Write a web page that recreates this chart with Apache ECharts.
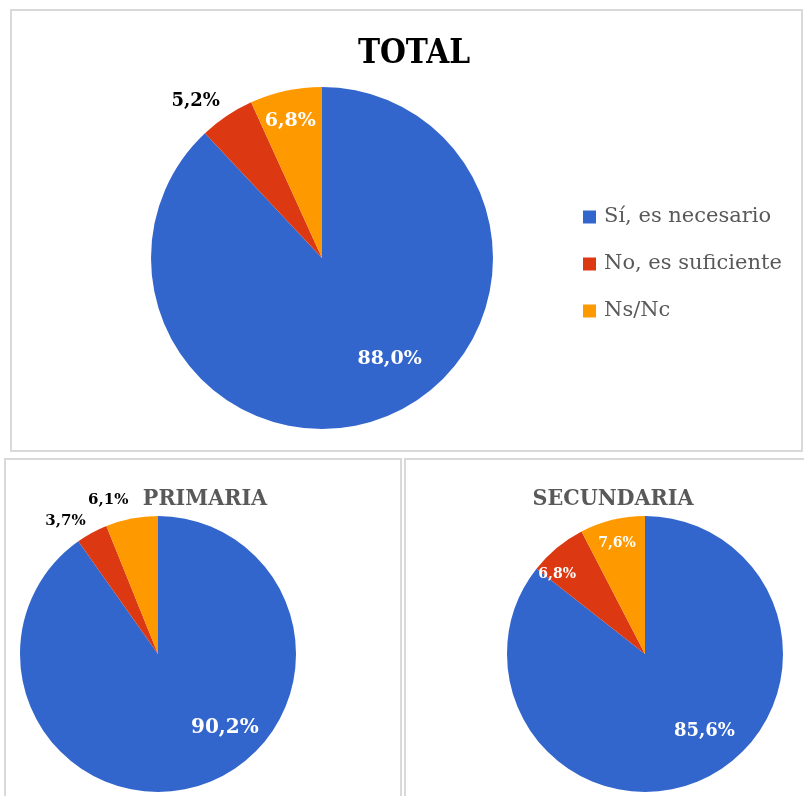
<!DOCTYPE html>
<html>
<head>
<meta charset="utf-8">
<script src="https://cdn.jsdelivr.net/npm/echarts@6/dist/echarts.min.js"></script>
<style>
  html, body { margin: 0; padding: 0; background: #fff; }
  #chart { width: 804px; height: 796px; }
</style>
</head>
<body>
<div id="chart"></div>
<script>
// categorias y valores (%)
var categories = ["Sí, es necesario", "No, es suficiente", "Ns/Nc"];
var totalValues = [88.0, 5.2, 6.8];
var primariaValues = [90.2, 3.7, 6.1];
var secundariaValues = [85.6, 6.8, 7.6];
var titles = ["TOTAL", "PRIMARIA", "SECUNDARIA"];

var colors = ["#3366CC", "#DC3912", "#FF9900"];

// ajustes de etiquetas (estilo, no datos)
var totalLabels = [
  { color: "#fff", size: 19, offset: [35, 19] },
  { color: "#000", size: 18, offset: [-77, -83] },
  { color: "#fff", size: 19, offset: [-13, -50] }
];
var primariaLabels = [
  { color: "#fff", size: 20, offset: [45, 5] },
  { color: "#000", size: 15, offset: [-58, -70] },
  { color: "#000", size: 15, offset: [-36, -83] }
];
var secundariaLabels = [
  { color: "#fff", size: 18, offset: [28, 13] },
  { color: "#fff", size: 14, offset: [-42, -24] },
  { color: "#fff", size: 14, offset: [-11, -41] }
];

var titleFont = "'DejaVu Serif Condensed', 'Liberation Serif', serif";

function fmt(v) {
  return v.toFixed(1).replace(".", ",") + "%";
}

function pieSeries(values, labels, center, radius) {
  return {
    type: "pie",
    center: center,
    radius: radius,
    startAngle: 90,
    clockwise: true,
    animation: false,
    silent: true,
    labelLine: { show: false },
    itemStyle: { borderWidth: 0 },
    data: values.map(function (v, i) {
      return {
        name: categories[i],
        value: v,
        itemStyle: { color: colors[i] },
        label: {
          show: true,
          position: "inside",
          formatter: fmt(v),
          color: labels[i].color,
          fontSize: labels[i].size,
          fontWeight: "bold",
          fontFamily: "DejaVu Serif",
          offset: labels[i].offset
        }
      };
    })
  };
}

var chart = echarts.init(document.getElementById("chart"));

var option = {
  backgroundColor: "#fff",
  title: [
    {
      text: titles[0], left: 409, top: 33, textAlign: "center",
      textStyle: { fontFamily: titleFont, fontWeight: "bold", fontSize: 33, color: "#000" }
    },
    {
      text: titles[1], left: 200, top: 483, textAlign: "center",
      textStyle: { fontFamily: titleFont, fontWeight: "bold", fontSize: 23, color: "#595959" }
    },
    {
      text: titles[2], left: 608, top: 483, textAlign: "center",
      textStyle: { fontFamily: titleFont, fontWeight: "bold", fontSize: 23, color: "#595959" }
    }
  ],
  legend: {
    orient: "vertical",
    left: 583,
    top: 205,
    padding: 0,
    itemWidth: 13,
    itemHeight: 13,
    itemGap: 23,
    icon: "rect",
    selectedMode: false,
    data: categories,
    textStyle: { fontFamily: "DejaVu Serif", fontSize: 21, color: "#595959", lineHeight: 24, padding: [0, 0, 0, 3] }
  },
  graphic: [
    { type: "rect", shape: { x: 11, y: 10, width: 791, height: 441 }, style: { fill: "none", stroke: "#d9d9d9", lineWidth: 2 }, z: -1 },
    { type: "rect", shape: { x: 5, y: 459, width: 396, height: 345 }, style: { fill: "none", stroke: "#d9d9d9", lineWidth: 2 }, z: -1 },
    { type: "rect", shape: { x: 405, y: 459, width: 405, height: 345 }, style: { fill: "none", stroke: "#d9d9d9", lineWidth: 2 }, z: -1 }
  ],
  series: [
    pieSeries(totalValues, totalLabels, [322, 258], 171),
    pieSeries(primariaValues, primariaLabels, [158, 654], 138),
    pieSeries(secundariaValues, secundariaLabels, [645, 654], 138)
  ]
};

chart.setOption(option);
window.onresize = chart.resize;
</script>
</body>
</html>
